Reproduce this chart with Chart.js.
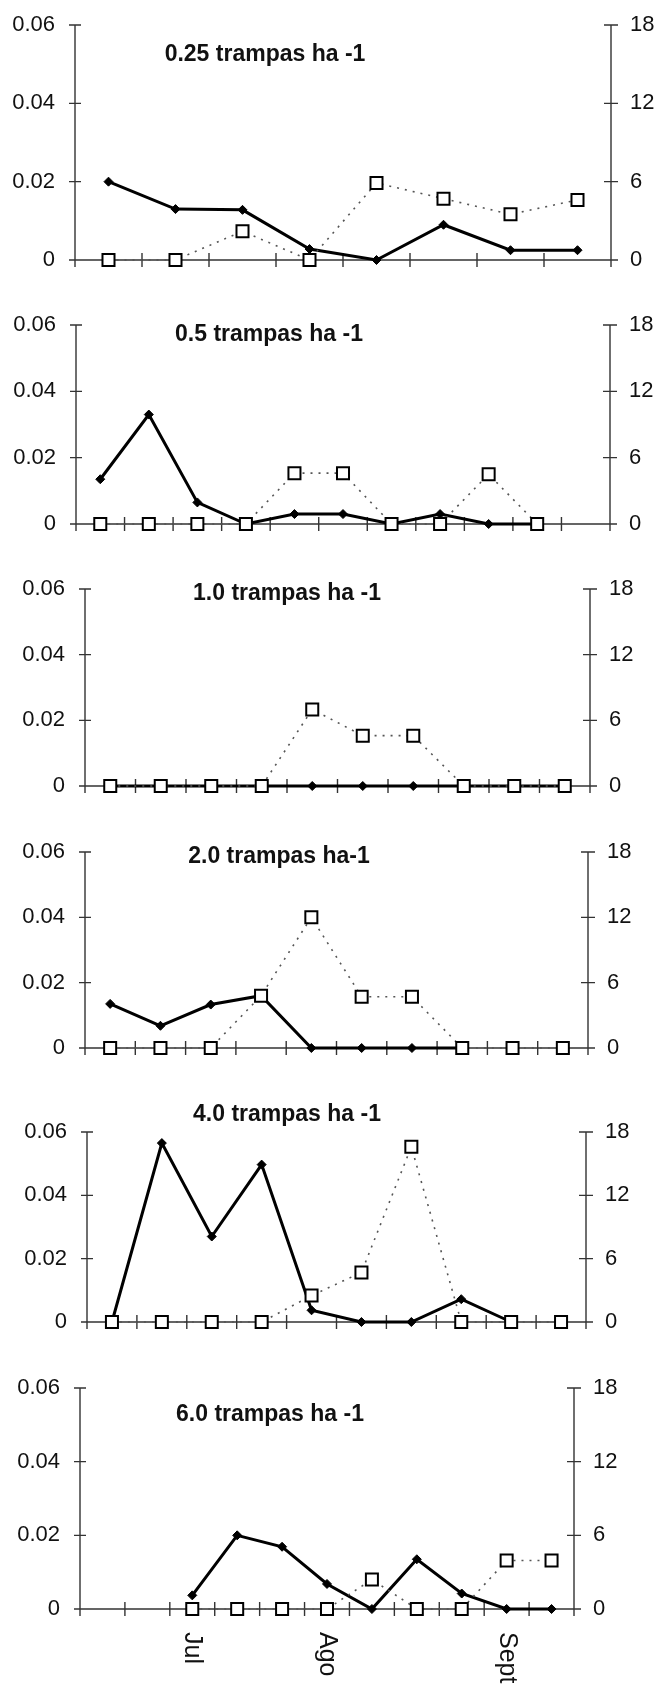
<!DOCTYPE html>
<html>
<head>
<meta charset="utf-8">
<script src="https://cdn.jsdelivr.net/npm/chart.js@4.4.1/dist/chart.umd.min.js"></script>
<style>
  html, body { margin: 0; padding: 0; background: #fff; }
  #page { position: relative; width: 655px; height: 1688px; overflow: hidden; background: #fff; }
  #page canvas { position: absolute; left: 0; }
  .ttl { position: absolute; font: bold 23px "Liberation Sans", Arial, sans-serif; color: #111; white-space: nowrap; transform: translate(-50%, -50%); }
</style>
</head>
<body>
<div id="page"></div>
<script>
// titles of the six panels
const titles = ['0.25 trampas ha -1', '0.5 trampas ha -1', '1.0 trampas ha -1',
                '2.0 trampas ha-1', '4.0 trampas ha -1', '6.0 trampas ha -1'];

// x categories (only the bottom panel shows month labels)
const cats1 = ['', '', '', '', '', '', '', ''];
const cats2 = ['', '', '', '', '', '', '', '', '', '', ''];
const cats3 = ['', '', '', '', '', '', '', '', '', ''];
const cats4 = ['', '', '', '', '', '', '', '', '', ''];
const cats5 = ['', '', '', '', '', '', '', '', '', ''];
const cats6 = ['', '', 'Jul', '', '', 'Ago', '', '', '', 'Sept', ''];

// left axis series (solid line, diamonds)
const dens1 = [0.020, 0.013, 0.0128, 0.0028, 0, 0.009, 0.0025, 0.0025];
const dens2 = [0.0135, 0.033, 0.0065, 0, 0.003, 0.003, 0, 0.003, 0, 0, null];
const dens3 = [0, 0, 0, 0, 0, 0, 0, 0, 0, 0];
const dens4 = [0.0135, 0.0068, 0.0133, 0.016, 0, 0, 0, 0, null, null];
const dens5 = [0, 0.0565, 0.027, 0.0497, 0.0037, 0, 0, 0.0072, 0, null];
const dens6 = [null, null, 0.0037, 0.020, 0.0169, 0.0068, 0, 0.0135, 0.0042, 0, 0];

// right axis series (dotted line, open squares)
const capt1 = [0, 0, 2.2, 0, 5.9, 4.7, 3.5, 4.6];
const capt2 = [0, 0, 0, 0, 4.6, 4.6, 0, 0, 4.5, 0, null];
const capt3 = [0, 0, 0, 0, 7.0, 4.6, 4.6, 0, 0, 0];
const capt4 = [0, 0, 0, 4.8, 12, 4.7, 4.7, 0, 0, 0];
const capt5 = [0, 0, 0, 0, 2.5, 4.7, 16.6, 0, 0, 0];
const capt6 = [null, null, 0, 0, 0, 0, 2.4, 0, 0, 3.95, 3.95];

const yTicksL = [0, 0.02, 0.04, 0.06];
const yTicksR = [0, 6, 12, 18];

const panels = [
  { labels: cats1, dens: dens1, capt: capt1 },
  { labels: cats2, dens: dens2, capt: capt2 },
  { labels: cats3, dens: dens3, capt: capt3 },
  { labels: cats4, dens: dens4, capt: capt4 },
  { labels: cats5, dens: dens5, capt: capt5 },
  { labels: cats6, dens: dens6, capt: capt6 }
];

// plot boxes in page pixels: left axis, right axis, top (max) and bottom (zero) lines
const boxes = [
  { L: 75, R: 611, T: 25,   B: 260,  tx: 265, ty: 53 },
  { L: 76, R: 610, T: 325,  B: 524,  tx: 269, ty: 333 },
  { L: 85, R: 590, T: 589,  B: 786,  tx: 287, ty: 592 },
  { L: 85, R: 588, T: 852,  B: 1048, tx: 279, ty: 855 },
  { L: 87, R: 586, T: 1132, B: 1322, tx: 287, ty: 1113 },
  { L: 80, R: 574, T: 1388, B: 1609, tx: 270, ty: 1413 }
];

const W = 655, H = 1688, TOP = 40;
const tickFont = { family: 'Liberation Sans', size: 22 };

// axis lines with ticks crossing them
const axesPlugin = {
  id: 'axes',
  beforeDatasetsDraw(chart) {
    const { ctx, chartArea: a, scales } = chart;
    ctx.save();
    ctx.strokeStyle = '#333';
    ctx.lineWidth = 1.4;
    ctx.beginPath();
    ctx.moveTo(a.left, a.top); ctx.lineTo(a.left, a.bottom);
    ctx.moveTo(a.right, a.top); ctx.lineTo(a.right, a.bottom);
    ctx.moveTo(a.left, a.bottom); ctx.lineTo(a.right, a.bottom);
    yTicksL.forEach(v => {
      const y = scales.y.getPixelForValue(v);
      ctx.moveTo(a.left - 6, y); ctx.lineTo(a.left + 6, y);
    });
    yTicksR.forEach(v => {
      const y = scales.y2.getPixelForValue(v);
      ctx.moveTo(a.right - 7, y); ctx.lineTo(a.right + 7, y);
    });
    const n = chart.data.labels.length;
    for (let i = 0; i <= n; i++) {
      const x = scales.x.getPixelForValue(i - 0.5);
      ctx.moveTo(x, a.bottom - 7); ctx.lineTo(x, a.bottom + 7);
    }
    ctx.stroke();
    ctx.restore();
  }
};

// month labels, rotated clockwise
const monthPlugin = {
  id: 'months',
  afterDraw(chart) {
    const { ctx, chartArea: a, scales } = chart;
    ctx.save();
    ctx.fillStyle = '#111';
    ctx.font = '25px "Liberation Sans", Arial, sans-serif';
    ctx.textAlign = 'left';
    ctx.textBaseline = 'middle';
    chart.data.labels.forEach((lbl, i) => {
      if (!lbl) return;
      ctx.save();
      ctx.translate(scales.x.getPixelForValue(i), a.bottom + 23);
      ctx.rotate(Math.PI / 2);
      ctx.fillText(lbl, 0, 0);
      ctx.restore();
    });
    ctx.restore();
  }
};

const page = document.getElementById('page');

panels.forEach((p, k) => {
  const b = boxes[k];
  const bottomH = k === 5 ? H - b.B : 40;
  const cv = document.createElement('canvas');
  cv.width = W;
  cv.height = (b.B - b.T) + TOP + bottomH;
  cv.style.top = (b.T - TOP) + 'px';
  cv.style.width = W + 'px';
  cv.style.height = cv.height + 'px';
  page.appendChild(cv);

  new Chart(cv, {
    type: 'line',
    data: {
      labels: p.labels,
      datasets: [
        {
          data: p.capt,
          yAxisID: 'y2',
          borderColor: '#555',
          borderWidth: 1.6,
          borderDash: [2, 6],
          pointStyle: 'rect',
          pointRadius: 8.5,
          pointBackgroundColor: '#fff',
          pointBorderColor: '#000',
          pointBorderWidth: 2,
          tension: 0,
          clip: false,
          order: 0
        },
        {
          data: p.dens,
          yAxisID: 'y',
          borderColor: '#000',
          borderWidth: 3,
          pointStyle: 'rectRot',
          pointRadius: 4.5,
          pointBackgroundColor: '#000',
          pointBorderColor: '#000',
          pointBorderWidth: 1,
          tension: 0,
          clip: false,
          order: 1
        }
      ]
    },
    options: {
      responsive: false,
      animation: false,
      events: [],
      layout: { padding: { top: TOP, left: 0, right: 0, bottom: 0 } },
      plugins: { legend: { display: false }, tooltip: { enabled: false } },
      scales: {
        x: {
          type: 'category',
          offset: true,
          grid: { display: false, drawTicks: false },
          border: { display: false },
          ticks: { display: false },
          afterFit: s => { s.height = bottomH; }
        },
        y: {
          position: 'left',
          min: 0, max: 0.06,
          grid: { display: false, drawTicks: false },
          border: { display: false },
          ticks: {
            stepSize: 0.02, padding: 20, color: '#111', font: tickFont,
            callback: v => v === 0 ? '0' : v.toFixed(2)
          },
          afterFit: s => { s.width = b.L; }
        },
        y2: {
          position: 'right',
          min: 0, max: 18,
          grid: { display: false, drawTicks: false },
          border: { display: false },
          ticks: { stepSize: 6, padding: 19, color: '#111', font: tickFont },
          afterFit: s => { s.width = W - b.R; }
        }
      }
    },
    plugins: [axesPlugin, monthPlugin]
  });

  const t = document.createElement('div');
  t.className = 'ttl';
  t.textContent = titles[k];
  t.style.left = b.tx + 'px';
  t.style.top = b.ty + 'px';
  page.appendChild(t);
});
</script>
</body>
</html>
